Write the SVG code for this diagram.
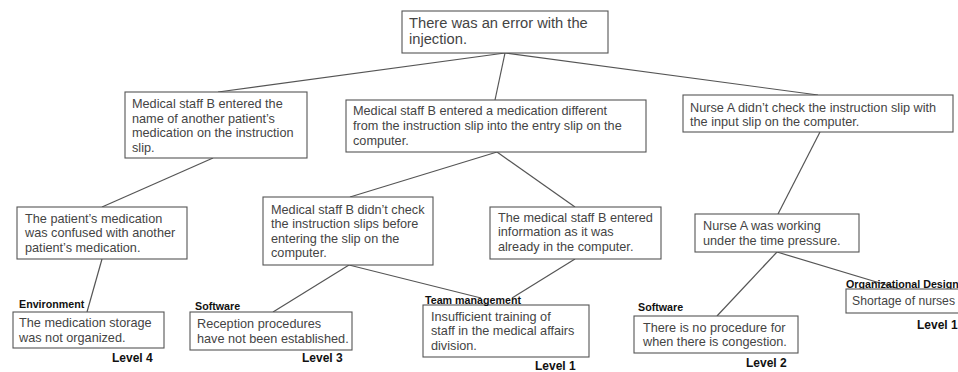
<svg xmlns="http://www.w3.org/2000/svg" width="958" height="372" viewBox="0 0 958 372">
<style>
.box{fill:#fff;stroke:#555;stroke-width:1.1}
.t{font-family:"Liberation Sans",Arial,sans-serif;font-size:12.7px;fill:#444}
.root{font-size:14.7px}
.lab{font-family:"Liberation Sans",Arial,sans-serif;font-size:10.7px;font-weight:bold;fill:#111}
.lvl{font-family:"Liberation Sans",Arial,sans-serif;font-size:12px;font-weight:bold;fill:#111}
.c line{stroke:#555;stroke-width:1.2}
</style>
<rect width="958" height="372" fill="#fff"/>
<g id="connectors" class="c">
<line x1="505" y1="53" x2="218" y2="92"/>
<line x1="505" y1="53" x2="495" y2="100"/>
<line x1="505" y1="53" x2="818" y2="95"/>
<line x1="213" y1="158" x2="102" y2="207"/>
<line x1="102" y1="259" x2="87" y2="312"/>
<line x1="497" y1="152" x2="350" y2="197"/>
<line x1="497" y1="152" x2="575" y2="207"/>
<line x1="349" y1="265" x2="273" y2="312"/>
<line x1="349" y1="265" x2="481" y2="298"/>
<line x1="575" y1="259" x2="512" y2="298"/>
<line x1="820" y1="132" x2="778" y2="214"/>
<line x1="777" y1="252" x2="717" y2="316"/>
<line x1="777" y1="252" x2="903" y2="290"/>
</g>
<g id="root">
<rect class="box" x="402" y="11" width="206" height="42"/>
<text class="t root" x="409" y="28">There was an error with the</text>
<text class="t root" x="409" y="44">injection.</text>
</g>
<g id="nodeA">
<rect class="box" x="125" y="92" width="182" height="66"/>
<text class="t" x="132" y="108">Medical staff B entered the</text>
<text class="t" x="132" y="122.5">name of another patient’s</text>
<text class="t" x="132" y="137">medication on the instruction</text>
<text class="t" x="132" y="151.5">slip.</text>
</g>
<g id="nodeB">
<rect class="box" x="346" y="100" width="300" height="52"/>
<text class="t" x="353" y="114.5">Medical staff B entered a medication different</text>
<text class="t" x="353" y="129.5">from the instruction slip into the entry slip on the</text>
<text class="t" x="353" y="144.5">computer.</text>
</g>
<g id="nodeC">
<rect class="box" x="683" y="95" width="270" height="37"/>
<text class="t" x="690" y="111.5">Nurse A didn’t check the instruction slip with</text>
<text class="t" x="690" y="125.5">the input slip on the computer.</text>
</g>
<g id="nodeF">
<rect class="box" x="17" y="207" width="170" height="52"/>
<text class="t" x="25" y="222.5">The patient’s medication</text>
<text class="t" x="25" y="237">was confused with another</text>
<text class="t" x="25" y="251.5">patient’s medication.</text>
</g>
<g id="nodeD">
<rect class="box" x="263" y="197" width="170" height="68"/>
<text class="t" x="271" y="213.5">Medical staff B didn’t check</text>
<text class="t" x="271" y="228">the instruction slips before</text>
<text class="t" x="271" y="242.5">entering the slip on the</text>
<text class="t" x="271" y="257">computer.</text>
</g>
<g id="nodeE">
<rect class="box" x="490" y="207" width="171" height="52"/>
<text class="t" x="498" y="221.5">The medical staff B entered</text>
<text class="t" x="498" y="236">information as it was</text>
<text class="t" x="498" y="250.5">already in the computer.</text>
</g>
<g id="nodeI">
<rect class="box" x="695" y="214" width="164" height="38"/>
<text class="t" x="703" y="229.5">Nurse A was working</text>
<text class="t" x="703" y="244.5">under the time pressure.</text>
</g>
<g id="nodeG">
<text class="lab" x="19" y="308">Environment</text>
<rect class="box" x="13" y="312" width="151" height="36"/>
<text class="t" x="19" y="326.5">The medication storage</text>
<text class="t" x="19" y="341.5">was not organized.</text>
<text class="lvl" x="112" y="362">Level 4</text>
</g>
<g id="nodeR">
<text class="lab" x="195" y="310">Software</text>
<rect class="box" x="190" y="312" width="162" height="38"/>
<text class="t" x="197" y="328">Reception procedures</text>
<text class="t" x="197" y="342.5">have not been established.</text>
<text class="lvl" x="302" y="362">Level 3</text>
</g>
<g id="nodeH">
<rect class="box" x="423" y="305" width="166" height="52"/>
<text class="lab" x="425" y="303.5">Team management</text>
<text class="t" x="431" y="320.5">Insufficient training of</text>
<text class="t" x="431" y="335">staff in the medical affairs</text>
<text class="t" x="431" y="349.5">division.</text>
<text class="lvl" x="535" y="369.5">Level 1</text>
</g>
<g id="nodeJ">
<text class="lab" x="638" y="311">Software</text>
<rect class="box" x="634" y="316" width="164" height="37"/>
<text class="t" x="643" y="331.5">There is no procedure for</text>
<text class="t" x="643" y="346">when there is congestion.</text>
<text class="lvl" x="746" y="367">Level 2</text>
</g>
<g id="nodeK">
<text class="lab" x="846" y="288">Organizational Design</text>
<rect class="box" x="846" y="289" width="120" height="24"/>
<text class="t" x="852" y="304.5" style="font-size:12.2px">Shortage of nurses</text>
<text class="lvl" x="917" y="329">Level 1</text>
</g>
</svg>
